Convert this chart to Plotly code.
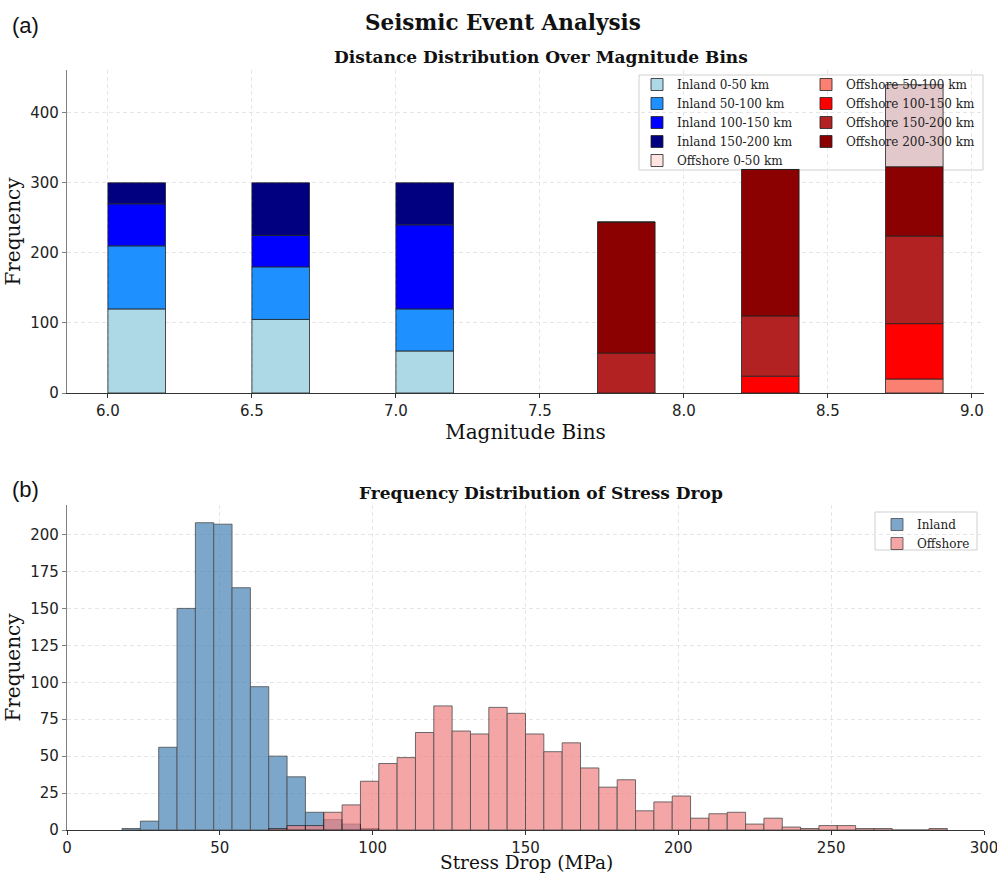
import plotly.graph_objects as go
import numpy as np

# ---------------- data ----------------
inland_bins = [6.0, 6.5, 7.0]
inland_0_50 = [120, 105, 60]
inland_50_100 = [90, 75, 60]
inland_100_150 = [60, 45, 120]
inland_150_200 = [30, 75, 60]

offshore_bins = [7.7, 8.2, 8.7]
offshore_0_50 = [0, 0, 117]
offshore_50_100 = [0, 0, 20]
offshore_100_150 = [0, 24, 79]
offshore_150_200 = [57, 86, 125]
offshore_200_300 = [187, 209, 99]

mag_ticks = [6.0, 6.5, 7.0, 7.5, 8.0, 8.5, 9.0]
mag_tick_labels = ["6.0", "6.5", "7.0", "7.5", "8.0", "8.5", "9.0"]

stress_bin_width = 6
inland_edges = [18, 24, 30, 36, 42, 48, 54, 60, 66, 72, 78, 84, 90, 96]
inland_counts = [1, 6, 56, 150, 208, 207, 164, 97, 50, 36, 12, 7, 4, 1]
offshore_edges = [66, 72, 78, 84, 90, 96, 102, 108, 114, 120, 126, 132, 138, 144,
                  150, 156, 162, 168, 174, 180, 186, 192, 198, 204, 210, 216, 222,
                  228, 234, 240, 246, 252, 258, 264, 270, 276, 282]
offshore_counts = [1, 3, 3, 12, 17, 33, 45, 49, 66, 84, 67, 65, 83, 79,
                   65, 53, 59, 42, 29, 34, 13, 19, 23, 8, 11, 12, 4,
                   8, 2, 1, 3, 3, 1, 1, 0, 0, 1]

# ---------------- geometry ----------------
W, H = 997, 874
ML, MR, MT, MB = 67, 13, 70, 44
PW = W - ML - MR
PH = H - MT - MB


def px(x):
    return (x - ML) / PW


def py(y):
    return (H - MB - y) / PH


top_dom = [py(393), py(70)]
bot_dom = [py(830), py(505)]

SERIF = "DejaVu Serif"
SANS = "DejaVu Sans"
EDGE = "#222222"

fig = go.Figure()

# ---------------- top: stacked bars ----------------
inland_series = [
    ("Inland 0-50 km", inland_0_50, "#ADD8E6"),
    ("Inland 50-100 km", inland_50_100, "#1E90FF"),
    ("Inland 100-150 km", inland_100_150, "#0000FF"),
    ("Inland 150-200 km", inland_150_200, "#000080"),
]
base = np.zeros(len(inland_bins))
for i, (name, vals, col) in enumerate(inland_series):
    fig.add_trace(go.Bar(
        x=inland_bins, y=vals, base=base.copy(), width=0.2, offset=0,
        name=name, marker=dict(color=col, line=dict(color=EDGE, width=0.8)),
        xaxis="x", yaxis="y", legend="legend", legendrank=i + 1,
    ))
    base += np.array(vals)

offshore_series = [
    ("Offshore 50-100 km", offshore_50_100, "#FA8072", "legend2", 6),
    ("Offshore 100-150 km", offshore_100_150, "#FF0000", "legend2", 7),
    ("Offshore 150-200 km", offshore_150_200, "#B22222", "legend2", 8),
    ("Offshore 200-300 km", offshore_200_300, "#8B0000", "legend2", 9),
    ("Offshore 0-50 km", offshore_0_50, ["#FFE4E1", "#FFE4E1", "#E2C8CA"], "legend", 5),
]
base = np.zeros(len(offshore_bins))
for name, vals, col, leg, rank in offshore_series:
    fig.add_trace(go.Bar(
        x=offshore_bins, y=vals, base=base.copy(), width=0.2, offset=0,
        name=name, marker=dict(color=col, line=dict(color=EDGE, width=0.8)),
        xaxis="x", yaxis="y", legend=leg, legendrank=rank,
    ))
    base += np.array(vals)

# ---------------- bottom: histograms ----------------
fig.add_trace(go.Bar(
    x=inland_edges, y=inland_counts, width=stress_bin_width, offset=0,
    name="Inland", opacity=0.7,
    marker=dict(color="#4682B4", line=dict(color="black", width=0.8)),
    xaxis="x2", yaxis="y2", legend="legend3",
))
fig.add_trace(go.Bar(
    x=offshore_edges, y=offshore_counts, width=stress_bin_width, offset=0,
    name="Offshore", opacity=0.7,
    marker=dict(color="#F08080", line=dict(color="black", width=0.8)),
    xaxis="x2", yaxis="y2", legend="legend3",
))

tickfont = dict(family=SANS, size=15, color="#222222")
titlefont = dict(family=SERIF, size=20, color="#111111")
grid = dict(showgrid=True, gridcolor="#e6e6e6", griddash="4px,3px", gridwidth=1)

common_x = dict(showline=True, linecolor="#333333", linewidth=1.3, ticks="outside",
                ticklen=4, tickcolor="#333333", tickfont=tickfont, zeroline=False,
                automargin=False, ticklabeloverflow="allow", **grid)
common_y = dict(showline=True, linecolor="#808080", linewidth=1.3, ticks="outside",
                ticklen=4, tickcolor="#808080", tickfont=tickfont, zeroline=False,
                automargin=False, **grid)

legfont = dict(family=SERIF, size=12, color="#222")

fig.update_layout(
    width=W, height=H,
    margin=dict(l=ML, r=MR, t=MT, b=MB, autoexpand=False),
    paper_bgcolor="white", plot_bgcolor="white",
    barmode="overlay",
    xaxis=dict(domain=[0, 1], anchor="y", range=[5.858, 9.042],
               tickvals=mag_ticks, ticktext=mag_tick_labels,
               title=dict(text="Magnitude Bins", font=titlefont, standoff=3), **common_x),
    yaxis=dict(domain=top_dom, anchor="x", range=[0, 461],
               tickvals=[0, 100, 200, 300, 400],
               title=dict(text="Frequency", font=titlefont, standoff=4), **common_y),
    xaxis2=dict(domain=[0, 1], anchor="y2", range=[0, 300],
                tickvals=[0, 50, 100, 150, 200, 250, 300], **common_x),
    yaxis2=dict(domain=bot_dom, anchor="x2", range=[0, 220],
                tickvals=[0, 25, 50, 75, 100, 125, 150, 175, 200],
                title=dict(text="Frequency", font=titlefont, standoff=4), **common_y),
    legend=dict(x=px(637), y=py(70), xanchor="left", yanchor="top",
                bgcolor="rgba(0,0,0,0)", borderwidth=0, font=legfont,
                traceorder="normal", itemwidth=30),
    legend2=dict(x=px(806), y=py(70), xanchor="left", yanchor="top",
                 bgcolor="rgba(0,0,0,0)", borderwidth=0, font=legfont,
                 traceorder="normal", itemwidth=30),
    legend3=dict(x=px(877), y=py(510), xanchor="left", yanchor="top",
                 bgcolor="rgba(0,0,0,0)", borderwidth=0, font=legfont,
                 traceorder="normal", itemwidth=30),
    showlegend=True,
)


def xd(pxv):
    return (pxv - 67) / (984 - 67)


def ydt(pyv):
    return (393 - pyv) / (393 - 70)


def ydb(pyv):
    return (830 - pyv) / (830 - 505)


fig.add_shape(type="rect", xref="x domain", yref="y domain",
              x0=xd(639), x1=xd(983), y0=ydt(170), y1=ydt(75),
              fillcolor="white", line=dict(color="#d0d0d0", width=1), layer="below")
fig.add_shape(type="rect", xref="x2 domain", yref="y2 domain",
              x0=xd(875), x1=xd(977), y0=ydb(550), y1=ydb(512),
              fillcolor="white", line=dict(color="#d0d0d0", width=1), layer="below")

ann = [
    dict(text="<b>Seismic Event Analysis</b>", x=px(503), y=py(22),
         font=dict(family=SERIF, size=21.5, color="#111")),
    dict(text="<b>Distance Distribution Over Magnitude Bins</b>", x=px(541), y=py(57),
         font=dict(family=SERIF, size=17, color="#111")),
    dict(text="<b>Frequency Distribution of Stress Drop</b>", x=px(541), y=py(493),
         font=dict(family=SERIF, size=17, color="#111")),
    dict(text="Stress Drop (MPa)", x=px(526), y=py(862.5),
         font=dict(family=SERIF, size=18.5, color="#111")),
    dict(text="(a)", x=px(25), y=py(25), font=dict(family="Liberation Sans", size=22, color="#111")),
    dict(text="(b)", x=px(25), y=py(490), font=dict(family="Liberation Sans", size=22, color="#111")),
]
for a in ann:
    fig.add_annotation(xref="paper", yref="paper", showarrow=False,
                       xanchor="center", yanchor="middle", **a)

fig.write_html("out.html")
